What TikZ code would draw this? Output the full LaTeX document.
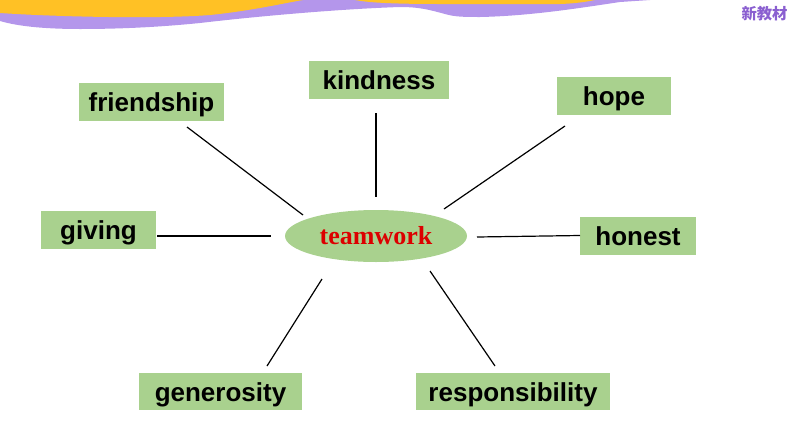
\documentclass[tikz,border=0pt]{standalone}
\usepackage{fontspec}
\setmainfont{Liberation Sans}
\newfontfamily\boxfont{Liberation Sans}
\newfontfamily\centerfont{Liberation Serif}
\newfontfamily\cjkfont{Noto Sans CJK SC}
\definecolor{boxgreen}{RGB}{169,209,142}
\definecolor{bannery}{RGB}{255,193,37}
\definecolor{bannerp}{RGB}{180,150,235}
\definecolor{cjkpurple}{RGB}{138,95,208}
\definecolor{teamred}{RGB}{220,0,0}
\tikzset{
  wordbox/.style={fill=boxgreen, inner sep=0pt, minimum height=28.5pt,
    text height=17.5pt, text depth=3pt,
    font=\boxfont\bfseries\fontsize{19.5}{22}\selectfont, text=black},
  hub/.style={ellipse, fill=boxgreen, inner sep=0pt, minimum width=136.5pt,
    minimum height=39pt, font=\centerfont\bfseries\fontsize{19.5}{22}\selectfont, text=teamred},
  spoke/.style={draw=black, line width=0.9pt}
}
\usetikzlibrary{shapes.geometric}
\begin{document}
\begin{tikzpicture}[x=0.75pt,y=-0.75pt]
\useasboundingbox (0,0) rectangle (794,447);
% banner
\fill[bannerp] (0,0) -- (0,21) .. controls (20,27) and (50,29) .. (80,29)
  .. controls (130,29) and (170,26) .. (200,23)
  .. controls (260,16) and (340,9) .. (400,7)
  .. controls (420,7) and (430,10) .. (445,14)
  .. controls (455,17) and (465,17) .. (480,17)
  .. controls (530,16) and (580,8) .. (620,2) -- (650,0) -- cycle;
\fill[bannery] (0,0) -- (0,13) .. controls (60,17) and (160,19) .. (210,15)
  .. controls (250,11) and (285,3) .. (303,0) -- cycle;
\fill[bannery] (355,0) .. controls (370,3) and (400,4) .. (440,4)
  -- (560,4) .. controls (575,3.5) and (585,2) .. (595,0) -- cycle;
\node[text=cjkpurple, font=\cjkfont\bfseries\fontsize{11.5}{13}\selectfont] (brand) at (764.5,14) {新教材};
% nodes
\node[hub] (tw) at (376,236) {teamwork};
\node[wordbox, minimum width=108.75pt] (friendship) at (151.5,101.5) {friendship};
\node[wordbox, minimum width=105pt] (kindness) at (379,80) {kindness};
\node[wordbox, minimum width=85.5pt] (hope) at (614,95.5) {hope};
\node[wordbox, minimum width=86.25pt] (giving) at (98.5,230) {giving};
\node[wordbox, minimum width=87pt] (honest) at (638,236) {honest};
\node[wordbox, minimum width=122.25pt, minimum height=27.75pt] (generosity) at (220.5,391.5) {generosity};
\node[wordbox, minimum width=145.5pt, minimum height=27.75pt] (responsibility) at (513,391.5) {responsibility};
% connector ends
\coordinate (f1) at (187,127); \coordinate (f2) at (303,215);
\coordinate (k1) at (376,113); \coordinate (k2) at (376,197);
\coordinate (h1) at (565,126); \coordinate (h2) at (444,209);
\coordinate (g1) at (157,236); \coordinate (g2) at (271,236);
\coordinate (o1) at (477,237); \coordinate (o2) at (580,235.5);
\coordinate (n1) at (322,279); \coordinate (n2) at (267,366);
\coordinate (r1) at (430,271); \coordinate (r2) at (495,366);
\draw[spoke] (f1) -- (f2);
\draw[spoke] (k1) -- (k2);
\draw[spoke] (h1) -- (h2);
\draw[spoke] (g1) -- (g2);
\draw[spoke] (o1) -- (o2);
\draw[spoke] (n1) -- (n2);
\draw[spoke] (r1) -- (r2);
\end{tikzpicture}
\end{document}
